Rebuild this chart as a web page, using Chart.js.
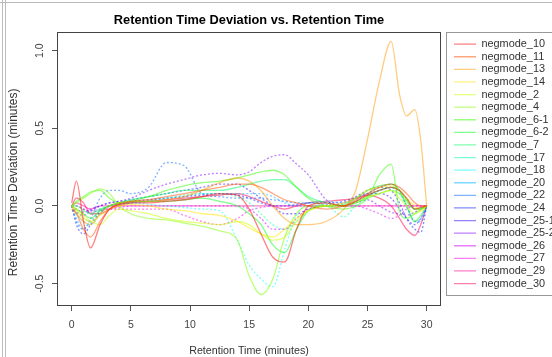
<!DOCTYPE html>
<html>
<head>
<meta charset="utf-8">
<title>Retention Time Deviation vs. Retention Time</title>
<script src="https://cdn.jsdelivr.net/npm/chart.js"></script>
<style>
  html, body { margin: 0; padding: 0; background: #fff; overflow: hidden; }
  #chart { display: block; }
</style>
</head>
<body>
<canvas id="chart" width="552" height="357"></canvas>
<script>
// retention time grid (minutes) shared by all runs
const rtMinutes = [0, 0.4, 1, 1.6, 2.4, 3.2, 4, 5, 6.5, 8, 9.5, 11, 12.5, 14, 15, 16, 17, 18, 19, 20, 21.5, 23, 24, 25, 26, 27, 27.7, 28.3, 29, 29.5, 30];

const runLabels = ['negmode_10', 'negmode_11', 'negmode_13', 'negmode_14', 'negmode_2', 'negmode_4',
  'negmode_6-1', 'negmode_6-2', 'negmode_7', 'negmode_17', 'negmode_18', 'negmode_20', 'negmode_22',
  'negmode_24', 'negmode_25-1', 'negmode_25-2', 'negmode_26', 'negmode_27', 'negmode_29', 'negmode_30'];

// deviation (minutes) per run
const negmode_10 = [0.02, 0.16, -0.1, -0.27, -0.12, -0.02, 0.01, 0.02, 0.02, 0.03, 0.04, 0.06, 0.08, 0.07, -0.02, -0.18, -0.33, -0.36, -0.15, 0.0, 0.02, 0.0, 0.03, 0.07, 0.1, 0.12, 0.1, 0.05, -0.02, -0.01, 0];
const negmode_11 = [-0.02, -0.05, -0.15, -0.2, -0.1, -0.02, 0.01, 0.03, 0.04, 0.06, 0.08, 0.1, 0.12, 0.14, 0.14, 0.12, 0.08, 0.04, 0.02, 0.0, -0.02, 0.0, 0.04, 0.08, 0.12, 0.14, 0.12, 0.08, 0.02, 0.0, 0];
const negmode_13 = [0.0, -0.05, -0.1, -0.12, -0.05, 0.0, 0.02, 0.03, 0.03, 0.04, 0.06, 0.1, 0.15, 0.18, 0.16, 0.1, 0.0, -0.08, -0.12, -0.12, -0.1, -0.02, 0.1, 0.43, 0.8, 1.06, 0.72, 0.58, 0.62, 0.42, 0.0];
const negmode_14 = [0.0, -0.03, -0.08, -0.1, -0.06, -0.02, 0.0, 0.01, 0.0, -0.02, -0.03, -0.05, -0.06, -0.1, -0.14, -0.18, -0.2, -0.15, -0.08, -0.03, 0.0, 0.02, 0.05, 0.1, 0.12, 0.13, 0.1, 0.05, 0.0, -0.03, 0];
const negmode_2 = [0.0, -0.02, -0.06, -0.1, -0.12, -0.06, -0.02, -0.03, -0.05, -0.08, -0.1, -0.11, -0.12, -0.1, -0.12, -0.18, -0.22, -0.2, -0.1, -0.03, 0.0, 0.0, 0.03, 0.06, 0.08, 0.1, 0.05, 0.0, -0.05, -0.03, 0];
const negmode_4 = [0.0, 0.02, 0.05, 0.08, 0.11, 0.08, 0.0, -0.05, -0.08, -0.09, -0.11, -0.13, -0.16, -0.22, -0.45, -0.57, -0.47, -0.2, -0.05, 0.0, 0.0, 0.0, 0.02, 0.05, 0.08, 0.1, 0.08, 0.03, -0.02, -0.01, 0];
const negmode_6_1 = [0.0, 0.03, 0.06, 0.09, 0.1, 0.05, 0.02, 0.03, 0.06, 0.1, 0.13, 0.15, 0.16, 0.18, 0.2, 0.22, 0.23, 0.2, 0.12, 0.05, 0.0, -0.02, 0.0, 0.05, 0.2, 0.27, -0.03, -0.08, -0.05, -0.02, 0];
const negmode_6_2 = [0.0, -0.02, -0.05, -0.08, -0.03, 0.0, 0.02, 0.03, 0.03, 0.03, 0.04, 0.05, 0.03, 0.0, -0.05, -0.12, -0.25, -0.3, -0.15, -0.03, 0.0, 0.01, 0.05, 0.1, 0.13, 0.14, 0.1, 0.0, -0.1, -0.06, 0];
const negmode_7 = [0.0, 0.0, -0.03, -0.05, -0.02, 0.0, 0.02, 0.04, 0.06, 0.08, 0.1, 0.1, 0.1, 0.12, 0.14, 0.16, 0.17, 0.17, 0.12, 0.06, 0.02, 0.0, 0.02, 0.06, 0.1, 0.12, 0.1, 0.04, -0.02, -0.02, 0];
const negmode_17 = [0.0, -0.03, -0.08, -0.1, -0.05, 0.0, 0.01, 0.02, 0.03, 0.05, 0.07, 0.08, 0.08, 0.06, 0.02, -0.05, -0.12, -0.15, -0.1, -0.03, 0.0, -0.07, 0.0, 0.05, 0.08, 0.1, 0.08, 0.03, -0.02, -0.02, 0];
const negmode_18 = [0.0, -0.05, -0.1, -0.12, -0.05, 0.0, 0.02, 0.02, 0.01, 0.0, -0.01, -0.02, -0.03, -0.22, -0.38, -0.47, -0.52, -0.28, -0.06, 0.0, 0.0, 0.0, 0.03, 0.06, 0.1, 0.12, 0.1, 0.05, -0.02, -0.02, 0];
const negmode_20 = [0.0, -0.08, -0.15, -0.1, -0.03, 0.0, 0.01, 0.02, 0.03, 0.05, 0.06, 0.08, 0.08, 0.08, 0.08, 0.08, 0.06, 0.02, 0.0, 0.02, 0.03, 0.02, 0.05, 0.08, 0.1, 0.12, 0.08, 0.0, -0.1, -0.08, 0];
const negmode_22 = [0.0, -0.1, -0.15, -0.08, 0.05, 0.1, 0.1, 0.08, 0.12, 0.28, 0.26, 0.08, 0.06, 0.05, 0.05, 0.05, 0.04, 0.03, 0.02, 0.02, 0.01, 0.0, 0.03, 0.08, 0.12, 0.14, 0.1, 0.0, -0.1, -0.1, 0];
const negmode_24 = [0.0, -0.12, -0.18, -0.12, -0.04, 0.0, 0.02, 0.03, 0.04, 0.05, 0.06, 0.07, 0.08, 0.07, 0.05, 0.02, 0.0, 0.0, 0.01, 0.02, 0.02, 0.03, 0.06, 0.1, 0.12, 0.1, 0.02, -0.08, -0.15, -0.17, 0];
const negmode_25_1 = [0.0, -0.04, -0.06, -0.03, 0.0, 0.02, 0.03, 0.04, 0.06, 0.08, 0.1, 0.12, 0.14, 0.14, 0.1, 0.05, 0.0, -0.05, -0.05, -0.02, 0.0, 0.02, 0.05, 0.08, 0.08, 0.05, -0.02, -0.08, -0.12, -0.08, 0];
const negmode_25_2 = [0.0, -0.02, -0.04, -0.02, 0.0, 0.02, 0.03, 0.05, 0.1, 0.14, 0.17, 0.2, 0.21, 0.2, 0.22, 0.28, 0.32, 0.33, 0.27, 0.2, 0.04, 0.0, 0.02, 0.04, 0.0, -0.04, -0.05, -0.06, -0.04, -0.02, 0];
const negmode_26 = [0.0, 0.0, -0.02, -0.03, -0.02, -0.02, -0.01, 0.0, 0.0, 0.0, 0.0, 0.0, 0.0, 0.0, -0.02, -0.08, -0.15, -0.15, -0.08, -0.02, 0.0, 0.0, 0.0, -0.02, -0.05, -0.08, -0.06, -0.02, 0.0, 0.0, 0];
const negmode_27 = [0.0, 0.0, -0.02, -0.04, -0.03, -0.02, -0.02, -0.02, -0.02, -0.02, -0.06, -0.1, -0.12, -0.08, -0.03, -0.01, 0.0, 0.0, 0.0, 0.0, 0.0, 0.0, 0.0, 0.0, 0.0, 0.0, 0.0, 0.0, 0.0, 0.0, 0];
const negmode_29 = [0.0, 0.02, 0.0, -0.02, 0.0, 0.0, 0.0, 0.0, 0.0, 0.0, 0.0, 0.0, 0.0, 0.0, 0.0, 0.0, 0.0, 0.0, 0.0, 0.0, 0.0, 0.0, 0.0, 0.0, 0.0, 0.0, 0.0, 0.0, 0.0, 0.0, 0];
const negmode_30 = [0.0, 0.05, 0.02, -0.05, -0.05, -0.02, 0.0, 0.02, 0.03, 0.04, 0.05, 0.06, 0.07, 0.08, 0.06, 0.03, 0.0, -0.02, 0.0, 0.02, 0.03, 0.04, 0.05, 0.07, 0.05, 0.0, -0.08, -0.15, -0.19, -0.12, 0];

const runValues = [negmode_10, negmode_11, negmode_13, negmode_14, negmode_2, negmode_4, negmode_6_1,
  negmode_6_2, negmode_7, negmode_17, negmode_18, negmode_20, negmode_22, negmode_24, negmode_25_1,
  negmode_25_2, negmode_26, negmode_27, negmode_29, negmode_30];

// line type per run (R lty: 1 solid, 3 dotted)
const runLty = [1, 1, 1, 1, 1, 1, 1, 1, 1, 3, 3, 3, 3, 3, 3, 3, 3, 3, 1, 1];

const xTicks = [0, 5, 10, 15, 20, 25, 30];
const yTicks = [-0.5, 0.0, 0.5, 1.0];

const FONT = "'Liberation Sans', Arial, Helvetica, sans-serif";

let datasets = [];
for (let i = 0; i < runLabels.length; i++) {
  let color = 'hsla(' + (i * 18) + ', 100%, 50%, 0.5)';
  datasets.push({
    label: runLabels[i],
    data: rtMinutes.map((x, j) => ({x: x, y: runValues[i][j]})),
    borderColor: color,
    backgroundColor: color,
    borderWidth: 1.3,
    borderDash: runLty[i] === 3 ? [2, 2] : [],
    pointRadius: 0,
    pointStyle: 'line',
    cubicInterpolationMode: 'monotone',
    fill: false,
  });
}

// R-style boxes: plot frame, legend frame and the window edge
const frames = {
  id: 'frames',
  afterLayout(chart) {
    const lg = chart.legend;
    lg.left = 452.3;
    lg.right = lg.left + lg.width;
    lg.top = 37;
    lg.bottom = lg.top + lg.height;
  },
  beforeDraw(chart) {
    const ctx = chart.ctx;
    ctx.save();
    ctx.fillStyle = '#fff';
    ctx.fillRect(0, 0, chart.width, chart.height);
    ctx.restore();
  },
  afterDraw(chart) {
    const {ctx, chartArea: ca} = chart;
    ctx.save();
    ctx.lineWidth = 1;
    ctx.strokeStyle = '#444';
    ctx.strokeRect(Math.round(ca.left) + 0.5, Math.round(ca.top) + 0.5,
      Math.round(ca.right - ca.left) - 1, Math.round(ca.bottom - ca.top) - 1);
    ctx.strokeStyle = '#999';
    ctx.strokeRect(446.5, 32.5, 120, 263);
    ctx.strokeStyle = '#bbb';
    ctx.beginPath();
    ctx.moveTo(2.5, 0); ctx.lineTo(2.5, 357);
    ctx.moveTo(5.5, 0); ctx.lineTo(5.5, 357);
    ctx.moveTo(0, 2.5); ctx.lineTo(552, 2.5);
    ctx.stroke();
    ctx.restore();
  }
};

new Chart(document.getElementById('chart'), {
  type: 'line',
  data: { datasets: datasets },
  plugins: [frames],
  options: {
    responsive: false,
    animation: false,
    devicePixelRatio: 1,
    layout: { padding: 0 },
    plugins: {
      tooltip: { enabled: false },
      title: {
        display: true,
        text: 'Retention Time Deviation vs. Retention Time',
        fullSize: false,
        color: '#000',
        font: { family: FONT, size: 12.8, weight: 'bold' },
        padding: { top: 12.8, bottom: 3.84 },
      },
      legend: {
        position: 'right',
        align: 'start',
        maxWidth: 111,
        labels: {
          usePointStyle: true,
          pointStyle: 'line',
          pointStyleWidth: 22,
          padding: 1.7,
          color: '#333',
          font: { family: FONT, size: 10.9 },
        },
      },
    },
    scales: {
      x: {
        type: 'linear',
        min: -1.24,
        max: 31.21,
        afterFit: (scale) => { scale.height = 51; },
        afterBuildTicks: (scale) => { scale.ticks = xTicks.map(v => ({value: v})); },
        grid: { drawOnChartArea: false, drawTicks: true, tickLength: 5, color: '#555' },
        border: { display: false },
        ticks: { color: '#444', padding: 7.5, maxRotation: 0, font: { family: FONT, size: 10.5 },
          callback: (v) => String(v) },
        title: { display: true, text: 'Retention Time (minutes)', color: '#333',
          font: { family: FONT, size: 10.7 }, padding: { top: 0, bottom: 0 } },
      },
      y: {
        type: 'linear',
        min: -0.644,
        max: 1.12,
        afterFit: (scale) => { scale.width = 57; },
        afterBuildTicks: (scale) => { scale.ticks = yTicks.map(v => ({value: v})); },
        grid: { drawOnChartArea: false, drawTicks: true, tickLength: 5, color: '#555' },
        border: { display: false },
        ticks: { color: '#444', padding: 3, minRotation: 90, maxRotation: 90, crossAlign: 'center',
          font: { family: FONT, size: 10.5 }, callback: (v) => v.toFixed(1) },
        title: { display: true, text: 'Retention Time Deviation (minutes)        ', color: '#333',
          font: { family: FONT, size: 12 }, padding: { top: 6, bottom: 0 } },
      },
    },
  },
});
</script>
</body>
</html>
